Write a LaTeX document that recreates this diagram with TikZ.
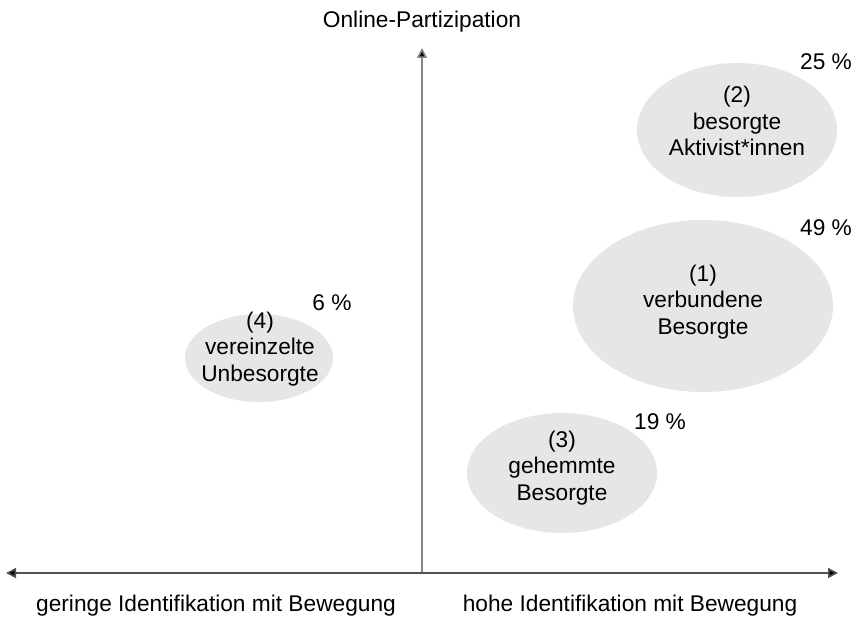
\documentclass[tikz,border=0pt]{standalone}
\usepackage{fontspec}
\setmainfont{Liberation Sans}
\usetikzlibrary{shapes.geometric,arrows.meta}
\definecolor{blobfill}{RGB}{230,230,230}
\definecolor{axisdark}{RGB}{80,80,80}
\definecolor{axislight}{RGB}{135,135,135}
\begin{document}
\begin{tikzpicture}[x=1pt,y=1pt,
  blob/.style={ellipse,fill=blobfill,draw=none,inner sep=0pt},
  lbl/.style={align=center,inner sep=0pt,font=\fontsize{22.7}{26.5}\selectfont,text=black},
  pct/.style={inner sep=0pt,font=\fontsize{22.7}{26.5}\selectfont,text=black}
]
\useasboundingbox (0,0) rectangle (857,616);
\fill[white] (0,0) rectangle (857,616);
% axes
\coordinate (origin) at (422,43);
\coordinate (ytop) at (422,568);
\coordinate (xleft) at (6,43);
\coordinate (xright) at (838,43);
\draw[axislight,line width=1.6pt,-{Triangle[length=10pt,width=10pt,fill=black]}] (origin) -- (ytop);
\draw[axisdark,line width=1.6pt,{Triangle[length=10pt,width=10pt,fill=black]}-{Triangle[length=10pt,width=10pt,fill=black]}] (xleft) -- (xright);
% axis labels
\node[pct] (ylab) at (422,594) {Online-Partizipation};
\node[pct] (xlow) at (216,10) {geringe Identifikation mit Bewegung};
\node[pct] (xhigh) at (630,10) {hohe Identifikation mit Bewegung};
% ellipses
\node[blob,minimum width=200pt,minimum height=134pt] (e2) at (737,486) {};
\node[blob,minimum width=260pt,minimum height=172pt] (e1) at (703,310) {};
\node[blob,minimum width=190pt,minimum height=120pt] (e3) at (562,143) {};
\node[blob,minimum width=148pt,minimum height=88pt] (e4) at (259,258) {};
% texts
\node[lbl] (t2) at (737,495) {(2)\\besorgte\\Aktivist*innen};
\node[lbl] (t1) at (703,314) {(1)\\verbundene\\Besorgte};
\node[lbl] (t3) at (562,148) {(3)\\gehemmte\\Besorgte};
\node[lbl] (t4) at (260,267) {(4)\\vereinzelte\\Unbesorgte};
% percentages
\node[pct] (p2) at (826,554) {25 \%};
\node[pct] (p1) at (826,388) {49 \%};
\node[pct] (p3) at (660,194) {19 \%};
\node[pct] (p4) at (332,313) {6 \%};
\end{tikzpicture}
\end{document}
